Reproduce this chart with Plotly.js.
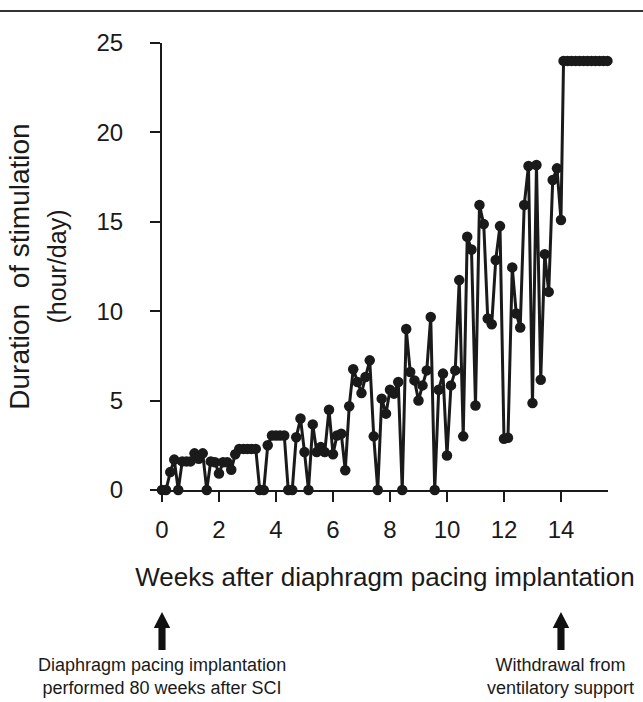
<!DOCTYPE html>
<html>
<head>
<meta charset="utf-8">
<script src="https://cdn.plot.ly/plotly-3.0.1.min.js"></script>
<style>html,body{margin:0;padding:0;background:#fff;}#chart{width:643px;height:702px;}</style>
</head>
<body>
<div id="chart"></div>
<script>
// Weeks after implantation (one point per day)
var weeks = [0,0.14,0.29,0.43,0.57,0.71,0.86,1.0,1.14,1.29,1.43,1.57,1.71,1.86,2.0,2.14,2.29,2.43,2.57,2.71,
  2.86,3.0,3.14,3.29,3.43,3.57,3.71,3.86,4.0,4.14,4.29,4.43,4.57,4.71,4.86,5.0,5.14,5.29,5.43,5.57,
  5.71,5.86,6.0,6.14,6.29,6.43,6.57,6.71,6.86,7.0,7.14,7.29,7.43,7.57,7.71,7.86,8.0,8.14,8.29,8.43,
  8.57,8.71,8.86,9.0,9.14,9.29,9.43,9.57,9.71,9.86,10.0,10.14,10.29,10.43,10.57,10.71,10.86,11.0,11.14,11.29,
  11.43,11.57,11.71,11.86,12.0,12.14,12.29,12.43,12.57,12.71,12.86,13.0,13.14,13.29,13.43,13.57,13.71,13.86,14.0,
  14.09,14.23,14.37,14.51,14.65,14.79,14.93,15.07,15.21,15.35,15.49,15.63];
// Duration of stimulation (hour/day)
var hours = [0,0,1.0,1.7,0,1.6,1.6,1.6,2.05,1.75,2.05,0,1.6,1.55,0.92,1.55,1.55,1.13,2.0,2.3,
  2.3,2.3,2.3,2.3,0,0,2.5,3.05,3.05,3.05,3.05,0,0,2.95,4.0,2.12,0,3.67,2.12,2.4,
  2.12,4.49,2.0,3.05,3.15,1.1,4.68,6.75,6.04,5.42,6.32,7.25,3.0,0,5.11,4.27,5.61,5.39,6.04,0,
  9.0,6.6,6.13,5.01,5.85,6.69,9.68,0,5.61,6.51,1.93,5.85,6.69,11.74,3.0,14.16,13.45,4.73,15.94,14.87,
  9.59,9.27,12.86,14.76,2.87,2.92,12.45,9.87,9.09,15.94,18.12,4.86,18.18,6.17,13.19,11.08,17.34,17.99,15.1,
  24,24,24,24,24,24,24,24,24,24,24,24];
var xTicks = [0,2,4,6,8,10,12,14];
var yTicks = [0,5,10,15,20,25];
var xTitle = 'Weeks after diaphragm pacing implantation';
var yTitle = 'Duration  of stimulation<br><span style="font-size:25px">(hour/day)</span>';
var noteLeft = 'Diaphragm pacing implantation<br>performed 80 weeks after SCI';
var noteRight = 'Withdrawal from<br>ventilatory support';
var arrowWeeks = [0, 14];

var ink = '#1a1a1a';
var fontFam = 'Liberation Sans, Arial, Helvetica, sans-serif';
var xMax = 15.65;

function arrowPath(xw) {
  var xc = xw / xMax;
  var hw = 0.29 / xMax, sw = 0.125 / xMax;
  var tip = -0.2729, base = -0.3087, bot = -0.3579;
  return 'M ' + xc + ' ' + tip +
    ' L ' + (xc + hw) + ' ' + base +
    ' L ' + (xc + sw) + ' ' + base +
    ' L ' + (xc + sw) + ' ' + bot +
    ' L ' + (xc - sw) + ' ' + bot +
    ' L ' + (xc - sw) + ' ' + base +
    ' L ' + (xc - hw) + ' ' + base + ' Z';
}

var trace = {
  x: weeks, y: hours, type: 'scatter', mode: 'lines+markers',
  line: {color: ink, width: 3},
  marker: {color: ink, size: 10.5},
  cliponaxis: false, hoverinfo: 'x+y'
};

var layout = {
  width: 643, height: 702,
  margin: {l: 162, r: 35, t: 43, b: 212},
  paper_bgcolor: '#ffffff', plot_bgcolor: '#ffffff',
  showlegend: false,
  font: {family: fontFam, color: ink, size: 24},
  xaxis: {
    range: [0, xMax], tickvals: xTicks, ticktext: xTicks.map(String),
    showgrid: false, zeroline: false, showline: true, linecolor: ink, linewidth: 2,
    ticks: 'outside', ticklen: 10, tickwidth: 2, tickcolor: ink,
    tickfont: {size: 24, color: ink}, ticklabelstandoff: 7,
    title: {text: xTitle, font: {size: 26, color: ink}, standoff: 26}
  },
  yaxis: {
    range: [0, 25], tickvals: yTicks, ticktext: yTicks.map(String),
    showgrid: false, zeroline: false, showline: true, linecolor: ink, linewidth: 2,
    ticks: 'outside', ticklen: 10, tickwidth: 2, tickcolor: ink,
    tickfont: {size: 24, color: ink}, ticklabelstandoff: 22,
    title: {text: yTitle, font: {size: 28, color: ink}, standoff: 22}
  },
  shapes: [
    {type: 'line', xref: 'paper', yref: 'paper', x0: -0.3632, x1: 1.0785, y0: 1.0716, y1: 1.0716,
     line: {color: '#333333', width: 2}},
    {type: 'path', xref: 'paper', yref: 'paper', path: arrowPath(arrowWeeks[0]), fillcolor: '#111111', line: {width: 0}},
    {type: 'path', xref: 'paper', yref: 'paper', path: arrowPath(arrowWeeks[1]), fillcolor: '#111111', line: {width: 0}}
  ],
  annotations: [
    {xref: 'x', yref: 'paper', x: arrowWeeks[0], y: -0.418, text: noteLeft, showarrow: false,
     xanchor: 'center', yanchor: 'middle', align: 'center', font: {size: 18, color: ink}},
    {xref: 'x', yref: 'paper', x: arrowWeeks[1], y: -0.418, text: noteRight, showarrow: false,
     xanchor: 'center', yanchor: 'middle', align: 'center', font: {size: 18, color: ink}}
  ]
};

Plotly.newPlot('chart', [trace], layout, {displayModeBar: false, staticPlot: true});
</script>
</body>
</html>
